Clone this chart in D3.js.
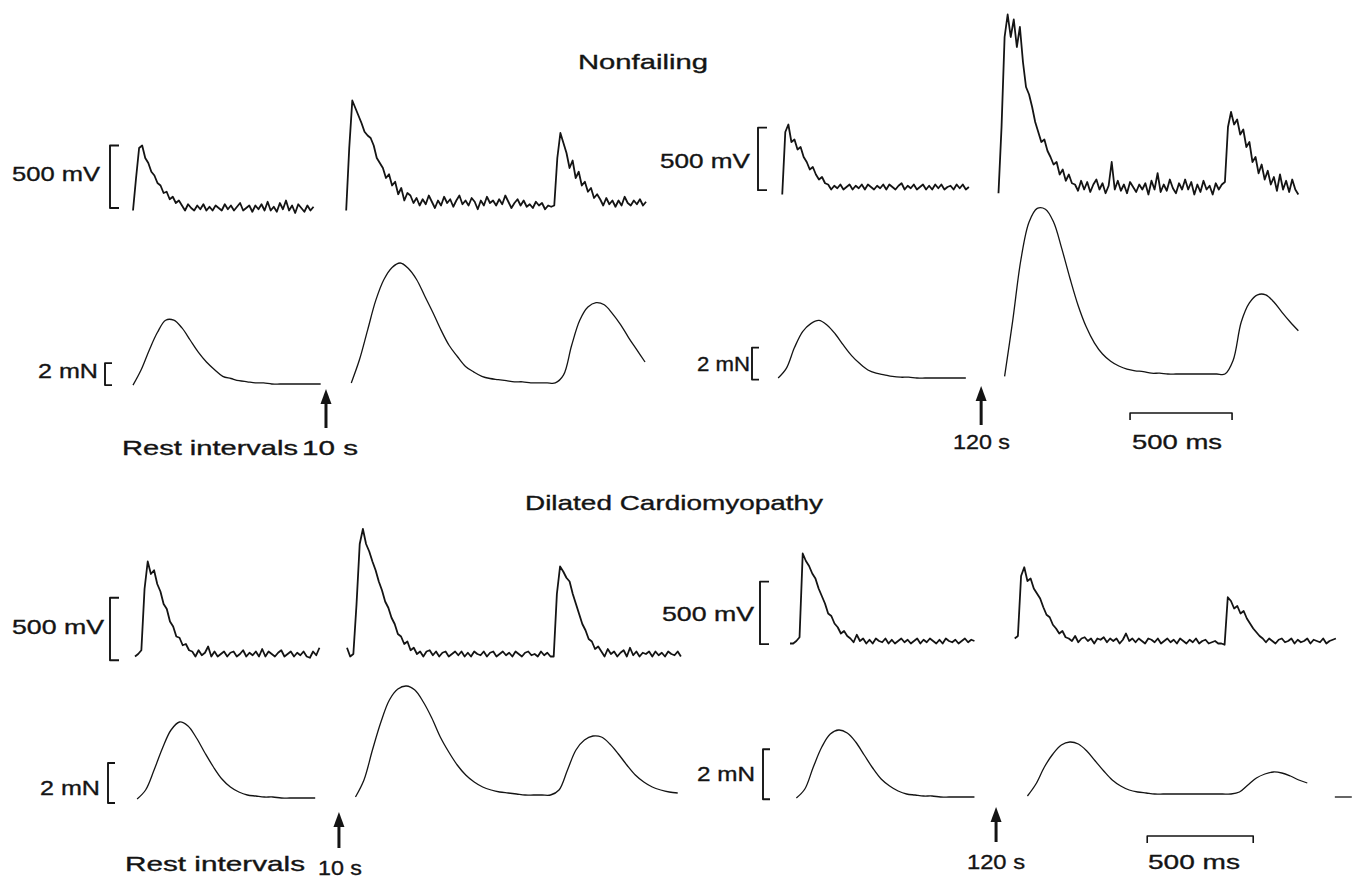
<!DOCTYPE html>
<html>
<head>
<meta charset="utf-8">
<script src="https://cdn.jsdelivr.net/npm/d3@7"></script>
<style>
body { margin: 0; background: #fff; }
text { font-family: "Liberation Sans", "DejaVu Sans", sans-serif; font-size: 21px; fill: #141414; stroke: #141414; stroke-width: 0.35; }
.trace { fill: none; stroke: #141414; stroke-linejoin: round; }
</style>
</head>
<body>
<div id="chart"></div>
<script>
const V_STEP = 15, F_STEP = 40;

// ---- Nonfailing, 10 s rest: voltage (mV), force (mN)
const nfShortStart = { vPre: 0, vPost: 1045, fPre: 0, fPost: 1070 };
const nfShortVPre = [-20,240,480,500,400,360,290,260,200,180,120,130,70,90,40,60,
  20,-20,30,0,-20,20,-10,30,-20,10,-20,20,0,-20,30,-10,20,-20,10,40,-20,0,20,-30,20,-10,30,-20,50,-20,10,-30,40,-10,60,-20,20,-40,30,0,-30,20,-20,10];
const nfShortVPost = [-20,480,860,800,740,680,610,580,560,500,400,360,320,240,270,180,210,110,160,60,120,
  100,40,80,20,70,30,100,50,0,60,20,90,40,70,10,60,100,30,60,20,80,50,-10,60,20,90,40,60,20,70,30,100,50,0,40,70,20,60,10,30,0,50,20,40,-10,20,10,
  20,400,600,520,440,320,380,240,290,180,210,130,160,80,110,
  70,20,80,30,60,10,60,20,90,40,20,60,30,70,20,50];
const nfShortFPre = [-0.1,1.3,3.1,4.7,5.8,5.8,5.1,4.0,2.9,2.0,1.3,0.7,0.5,0.3,0.2,0.1,0.1,0,0,0,0,0,0,0];
const nfShortFPost = [0.1,2.2,4.9,7.6,9.5,10.6,11.0,10.5,9.5,8.0,6.5,4.9,3.5,2.5,1.6,1.1,0.7,0.5,0.4,0.3,0.2,0.2,0.1,0.1,0.1,0.1,
  0.8,3.5,5.8,7.0,7.4,7.2,6.4,5.4,4.2,3.1,2.0];

// ---- Nonfailing, 120 s rest
const nfLongStart = { vPre: 60, vPost: 1120, fPre: 40, fPost: 1150 };
const nfLongVPre = [-60,440,500,360,380,300,320,240,200,140,160,100,60,80,30,
  20,-20,10,-10,20,-20,0,20,-20,10,-10,20,-20,20,0,-20,10,-10,20,-20,20,0,-20,10,30,-20,10,-10,20,-20,0,20,-20,10,-20,20,-10,20,-20,0,10,-20,20,-10,20,-20,0];
const nfLongVPost = [-50,480,1200,1380,1200,1340,1120,1280,1000,800,740,640,520,440,360,380,290,240,180,200,100,140,50,100,30,
  20,-30,50,-20,40,-40,20,60,-20,30,-50,10,200,-20,50,-30,20,-50,40,0,-40,20,-20,30,-60,50,-20,110,-40,20,-30,60,-10,-50,30,-20,60,-20,40,-60,20,-40,50,-20,10,-60,30,-20,20,
  40,480,600,500,540,420,460,320,360,200,240,110,180,60,130,
  20,80,-30,100,-20,50,-40,60,-20,-60];
const nfLongFPre = [0,0.6,1.9,2.9,3.4,3.6,3.3,2.75,2.05,1.4,0.9,0.5,0.3,0.2,0.1,0.05,0.05,0,0,0,0,0,0,0];
const nfLongFPost = [0.1,3.6,7.4,9.75,10.6,10.55,9.75,8.1,6.25,4.55,3.2,2.2,1.5,1.05,0.75,0.55,0.45,0.4,0.3,0.3,
  0.25,0.25,0.25,0.25,0.25,0.25,0.25,0.25,1.1,3.5,4.7,5.2,5.2,4.75,4.1,3.5,2.95];

// ---- Dilated cardiomyopathy, 10 s rest
const dcmShortStart = { vPre: 0, vPost: 1000, fPre: 10, fPost: 1040 };
const dcmShortVPre = [-20,0,30,520,740,640,670,560,500,400,360,260,220,140,130,70,80,30,
  20,-20,30,-10,10,60,-20,20,-20,0,20,-20,10,20,-20,0,30,-20,10,-10,20,-20,40,-20,20,0,-20,10,30,-20,0,20,-20,10,-10,20,-20,-30,20,-10,50];
const dcmShortVPost = [50,-20,0,400,880,1000,880,820,740,670,580,510,420,370,290,240,160,140,80,100,30,
  50,0,20,-20,20,30,-10,20,-20,10,20,-20,0,20,-10,20,-20,10,-20,20,0,-10,20,-20,10,20,-20,0,20,-10,10,-20,20,0,-20,10,20,-10,0,-20,20,-10,10,-20,-20,
  480,700,660,610,580,480,400,320,240,190,120,100,40,60,
  20,-20,40,0,20,-20,10,30,-20,50,-10,20,-20,10,0,20,-20,20,-10,10,-20,20,0,-10,20,-20];
const dcmShortFPre = [0,0.45,1.45,2.55,3.45,3.85,3.65,3.05,2.3,1.6,1.0,0.6,0.35,0.2,0.15,0.1,0.1,0.05,0.05,0.05,0.05,0.05];
const dcmShortFPost = [0.1,0.95,2.45,3.85,4.95,5.5,5.65,5.45,4.85,4.05,3.1,2.35,1.7,1.2,0.85,0.6,0.45,0.35,0.3,0.25,0.2,0.2,0.2,0.2,
  0.45,1.45,2.45,2.95,3.15,3.1,2.75,2.25,1.7,1.2,0.85,0.6,0.45,0.35,0.3];

// ---- Dilated cardiomyopathy, 120 s rest
const dcmLongStart = { vPre: 0, vPost: 1060, fPre: 30, fPost: 1120, fTail: 2570 };
const dcmLongVPre = [-20,-20,0,30,700,640,600,540,500,420,360,300,220,200,140,110,60,80,40,
  20,-10,50,0,20,-20,10,-20,20,0,-10,20,-20,10,-20,0,20,-10,10,-20,0,20,-20,10,-10,20,0,-20,10,-20,20,0,-10,10,-20,0,20,-10,10,0];
const dcmLongVPost = [20,40,520,590,480,500,420,380,340,270,210,190,130,100,60,80,30,
  20,0,40,-10,20,30,0,20,-20,20,10,30,-10,20,0,20,-20,10,60,0,20,-10,20,0,-20,20,10,-10,20,-20,0,20,-10,10,-20,20,0,-20,10,-10,20,-20,0,10,-20,-10,0,-20,-20,-30,
  350,320,260,280,220,240,180,140,100,70,40,
  20,-10,20,0,-20,10,20,-10,0,20,-20,10,-10,0,20,-20,10,0,-10,20,-20,0,10,20];
const dcmLongFPre = [0,0.36,1.24,2.04,2.56,2.72,2.6,2.24,1.72,1.2,0.76,0.48,0.28,0.16,0.12,0.08,0.08,0.04,0.04,0.04,0.04,0.04];
const dcmLongFPost = [0.08,0.56,1.24,1.76,2.12,2.24,2.16,1.88,1.48,1.08,0.72,0.48,0.32,0.24,0.2,
  0.16,0.16,0.16,0.16,0.16,0.16,0.16,0.16,0.16,0.16,0.24,0.52,0.8,0.96,1.04,1.0,0.88,0.72,0.6];
const dcmLongFTail = [0.04,0.04,0.04];

// calibration values and labels
const calV = 500, calF = 2, calT = 500;
const unitV = "500 mV", unitF = "2 mN", unitT = "500 ms";
const titles = ["Nonfailing", "Dilated Cardiomyopathy"];
const restLabels = ["10 s", "120 s"];

const svg = d3.select("#chart").append("svg")
  .attr("width", 1357)
  .attr("height", 879);

function label(str, x, y, len) {
  svg.append("text")
    .attr("x", x).attr("y", y)
    .attr("textLength", len)
    .attr("lengthAdjust", "spacingAndGlyphs")
    .text(str);
}

function series(values, t0, step) {
  return values.map((v, i) => [t0 + i * step, v]);
}

function drawPanel(p) {
  // time runs left to right; the rest interval shows up as the gap in the traces
  const x = d3.scaleLinear().domain([0, 1000]).range([p.x0, p.x0 + 1000 * p.pxMs]);
  const yV = d3.scaleLinear().domain([0, calV]).range([p.vZero, p.vZero - calV * p.pxMv]);
  const yF = d3.scaleLinear().domain([0, calF]).range([p.fZero, p.fZero - calF * p.pxMn]);

  const lineV = d3.line().x(d => x(d[0])).y(d => yV(d[1]));
  const lineF = d3.line().x(d => x(d[0])).y(d => yF(d[1])).curve(d3.curveCatmullRom.alpha(0.5));

  const g = svg.append("g");
  p.v.forEach(s => {
    g.append("path").attr("class", "trace")
      .attr("stroke-width", 1.8)
      .attr("d", lineV(series(s.values, s.t0, V_STEP)));
  });
  p.f.forEach(s => {
    g.append("path").attr("class", "trace")
      .attr("stroke-width", 1.3)
      .attr("d", lineF(series(s.values, s.t0, F_STEP)));
  });

  // calibration brackets
  const bracket = (bx, y1, y2, w) =>
    g.append("path").attr("class", "trace").attr("stroke-width", 1.9)
      .attr("d", `M${bx + w},${y1}H${bx}V${y2}H${bx + w}`);
  bracket(p.vCal.x, yV(p.vCal.lo + calV), yV(p.vCal.lo), 9);
  bracket(p.fCal.x, yF(p.fCal.lo + calF), yF(p.fCal.lo), 7);
  label(unitV, p.vLabel.x, p.vLabel.y, p.vLabel.w);
  label(unitF, p.fLabel.x, p.fLabel.y, p.fLabel.w);

  // rest arrow
  const ax = x(p.arrow.t);
  g.append("line")
    .attr("x1", ax).attr("x2", ax)
    .attr("y1", p.arrow.tail).attr("y2", p.arrow.tip + 10)
    .attr("stroke", "#141414").attr("stroke-width", 3);
  g.append("path")
    .attr("fill", "#141414")
    .attr("d", `M${ax},${p.arrow.tip}L${ax - 5.5},${p.arrow.tip + 15}L${ax + 5.5},${p.arrow.tip + 15}Z`);

  // time calibration bar
  if (p.bar) {
    const x1 = x(p.bar.t), x2 = x(p.bar.t + calT), by = p.bar.y;
    g.append("path").attr("class", "trace").attr("stroke-width", 1.6)
      .attr("d", `M${x1},${by + 7}V${by}H${x2}V${by + 7}`);
    label(unitT, p.bar.lx, p.bar.ly, p.bar.lw);
  }
}

const panels = [
  {
    x0: 133, pxMs: 0.204, vZero: 208, pxMv: 0.125, fZero: 384, pxMn: 11,
    v: [{ values: nfShortVPre, t0: nfShortStart.vPre }, { values: nfShortVPost, t0: nfShortStart.vPost }],
    f: [{ values: nfShortFPre, t0: nfShortStart.fPre }, { values: nfShortFPost, t0: nfShortStart.fPost }],
    vCal: { x: 110, lo: 0 }, fCal: { x: 105, lo: -0.1 },
    vLabel: { x: 12, y: 181, w: 88 }, fLabel: { x: 38, y: 378, w: 60 },
    arrow: { t: 946, tip: 389, tail: 428 }
  },
  {
    x0: 770, pxMs: 0.204, vZero: 187, pxMv: 0.125, fZero: 378, pxMn: 16,
    v: [{ values: nfLongVPre, t0: nfLongStart.vPre }, { values: nfLongVPost, t0: nfLongStart.vPost }],
    f: [{ values: nfLongFPre, t0: nfLongStart.fPre }, { values: nfLongFPost, t0: nfLongStart.fPost }],
    vCal: { x: 758, lo: -25 }, fCal: { x: 752, lo: -0.1 },
    vLabel: { x: 660, y: 168, w: 90 }, fLabel: { x: 697, y: 371, w: 53 },
    arrow: { t: 1035, tip: 386, tail: 425 },
    bar: { t: 1765, y: 413, lx: 1132, ly: 449, lw: 90 }
  },
  {
    x0: 135, pxMs: 0.212, vZero: 654, pxMv: 0.125, fZero: 799, pxMn: 20,
    v: [{ values: dcmShortVPre, t0: dcmShortStart.vPre }, { values: dcmShortVPost, t0: dcmShortStart.vPost }],
    f: [{ values: dcmShortFPre, t0: dcmShortStart.fPre }, { values: dcmShortFPost, t0: dcmShortStart.fPost }],
    vCal: { x: 110, lo: -50 }, fCal: { x: 108, lo: -0.2 },
    vLabel: { x: 12, y: 634, w: 92 }, fLabel: { x: 40, y: 795, w: 60 },
    arrow: { t: 962, tip: 812, tail: 848 }
  },
  {
    x0: 790, pxMs: 0.212, vZero: 641, pxMv: 0.125, fZero: 798, pxMn: 25,
    v: [{ values: dcmLongVPre, t0: dcmLongStart.vPre }, { values: dcmLongVPost, t0: dcmLongStart.vPost }],
    f: [{ values: dcmLongFPre, t0: dcmLongStart.fPre }, { values: dcmLongFPost, t0: dcmLongStart.fPost },
        { values: dcmLongFTail, t0: dcmLongStart.fTail }],
    vCal: { x: 760, lo: -25 }, fCal: { x: 763, lo: -0.05 },
    vLabel: { x: 662, y: 621, w: 92 }, fLabel: { x: 697, y: 781, w: 58 },
    arrow: { t: 972, tip: 807, tail: 842 },
    bar: { t: 1685, y: 836, lx: 1148, ly: 869, lw: 92 }
  }
];

panels.forEach(drawPanel);

// titles and rest-interval captions
label(titles[0], 578, 69, 130);
label(titles[1], 525, 510, 298);
label("Rest intervals", 122, 455, 176);
label(restLabels[0], 302, 455, 56);
label(restLabels[1], 953, 449, 57);
label("Rest intervals", 125, 871, 180);
label(restLabels[0], 318, 875, 44);
label(restLabels[1], 967, 869, 58);
</script>
</body>
</html>
